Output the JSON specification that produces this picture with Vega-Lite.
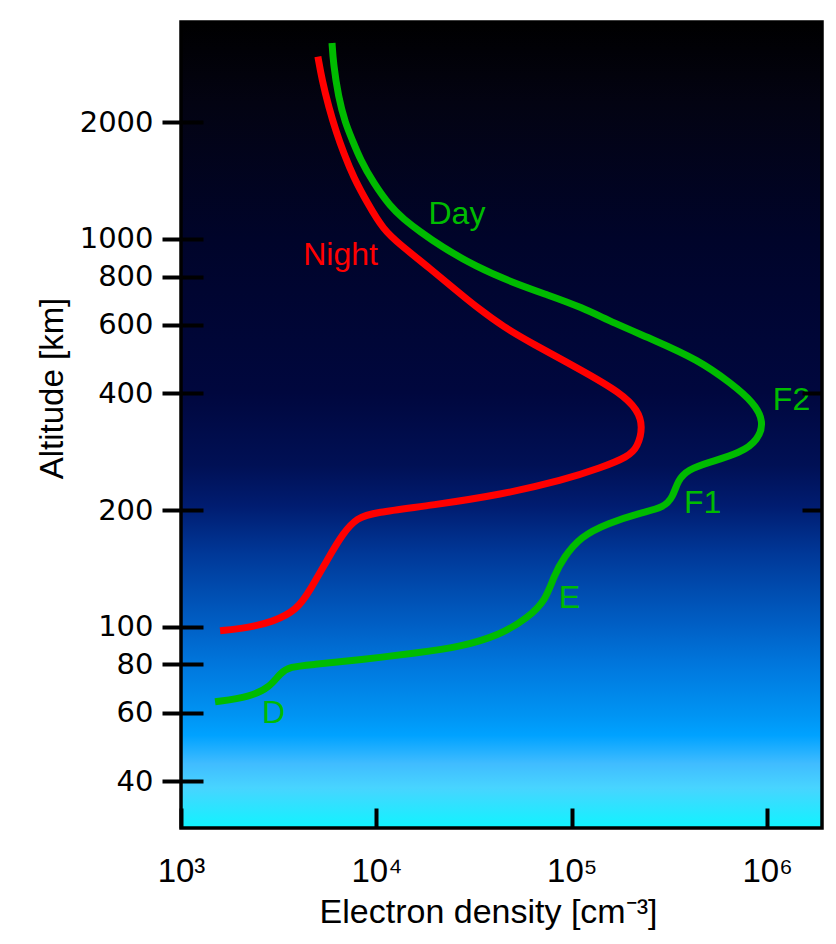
{
  "$schema": "https://vega.github.io/schema/vega-lite/v6.json",
  "width": 641,
  "height": 806,
  "autosize": {"type": "none"},
  "padding": {"left": 181, "top": 22, "right": 14, "bottom": 116},
  "background": "white",
  "config": {"view": {"stroke": null}, "font": "Liberation Sans"},
  "datasets": {
    "frame": [{"n0": 1000, "n1": 1910000, "a0": 30.3, "a1": 3624}],
    "profiles": [
      {"series": "Day", "i": 1, "n": 5930, "alt": 3200},
      {"series": "Day", "i": 2, "n": 6020, "alt": 2840},
      {"series": "Day", "i": 3, "n": 6390, "alt": 2320},
      {"series": "Day", "i": 4, "n": 6930, "alt": 1990},
      {"series": "Day", "i": 5, "n": 7530, "alt": 1800},
      {"series": "Day", "i": 6, "n": 8280, "alt": 1600},
      {"series": "Day", "i": 7, "n": 9650, "alt": 1395},
      {"series": "Day", "i": 8, "n": 11800, "alt": 1210},
      {"series": "Day", "i": 9, "n": 13760, "alt": 1126},
      {"series": "Day", "i": 10, "n": 16810, "alt": 1042},
      {"series": "Day", "i": 11, "n": 21290, "alt": 959},
      {"series": "Day", "i": 12, "n": 32000, "alt": 850},
      {"series": "Day", "i": 13, "n": 50420, "alt": 770},
      {"series": "Day", "i": 14, "n": 75330, "alt": 717},
      {"series": "Day", "i": 15, "n": 111200, "alt": 668},
      {"series": "Day", "i": 16, "n": 164200, "alt": 607},
      {"series": "Day", "i": 17, "n": 263400, "alt": 549},
      {"series": "Day", "i": 18, "n": 442900, "alt": 488},
      {"series": "Day", "i": 19, "n": 653800, "alt": 425},
      {"series": "Day", "i": 20, "n": 857800, "alt": 378},
      {"series": "Day", "i": 21, "n": 965000, "alt": 338},
      {"series": "Day", "i": 22, "n": 898800, "alt": 303},
      {"series": "Day", "i": 23, "n": 735900, "alt": 281},
      {"series": "Day", "i": 24, "n": 498300, "alt": 265},
      {"series": "Day", "i": 25, "n": 393400, "alt": 254},
      {"series": "Day", "i": 26, "n": 349700, "alt": 239},
      {"series": "Day", "i": 27, "n": 329600, "alt": 216},
      {"series": "Day", "i": 28, "n": 296400, "alt": 203},
      {"series": "Day", "i": 29, "n": 225900, "alt": 197},
      {"series": "Day", "i": 30, "n": 152900, "alt": 185},
      {"series": "Day", "i": 31, "n": 111200, "alt": 171},
      {"series": "Day", "i": 32, "n": 91000, "alt": 151},
      {"series": "Day", "i": 33, "n": 80870, "alt": 135},
      {"series": "Day", "i": 34, "n": 73580, "alt": 117},
      {"series": "Day", "i": 35, "n": 59480, "alt": 105.5},
      {"series": "Day", "i": 36, "n": 43240, "alt": 95.4},
      {"series": "Day", "i": 37, "n": 26960, "alt": 88.8},
      {"series": "Day", "i": 38, "n": 16230, "alt": 85.7},
      {"series": "Day", "i": 39, "n": 8280, "alt": 82.2},
      {"series": "Day", "i": 40, "n": 4590, "alt": 79.8},
      {"series": "Day", "i": 41, "n": 3620, "alt": 78.9},
      {"series": "Day", "i": 42, "n": 3220, "alt": 76.1},
      {"series": "Day", "i": 43, "n": 2860, "alt": 70.0},
      {"series": "Day", "i": 44, "n": 2260, "alt": 66.0},
      {"series": "Day", "i": 45, "n": 1494, "alt": 64.1},
      {"series": "Night", "i": 1, "n": 5020, "alt": 2950},
      {"series": "Night", "i": 2, "n": 5270, "alt": 2570},
      {"series": "Night", "i": 3, "n": 5700, "alt": 2190},
      {"series": "Night", "i": 4, "n": 6250, "alt": 1876},
      {"series": "Night", "i": 5, "n": 6800, "alt": 1666},
      {"series": "Night", "i": 6, "n": 7620, "alt": 1445},
      {"series": "Night", "i": 7, "n": 8990, "alt": 1238},
      {"series": "Night", "i": 8, "n": 10860, "alt": 1055},
      {"series": "Night", "i": 9, "n": 13280, "alt": 965},
      {"series": "Night", "i": 10, "n": 18920, "alt": 837},
      {"series": "Night", "i": 11, "n": 25420, "alt": 739},
      {"series": "Night", "i": 12, "n": 32960, "alt": 664},
      {"series": "Night", "i": 13, "n": 44800, "alt": 593},
      {"series": "Night", "i": 14, "n": 61620, "alt": 540},
      {"series": "Night", "i": 15, "n": 111200, "alt": 460},
      {"series": "Night", "i": 16, "n": 178400, "alt": 401},
      {"series": "Night", "i": 17, "n": 218000, "alt": 362},
      {"series": "Night", "i": 18, "n": 231300, "alt": 328},
      {"series": "Night", "i": 19, "n": 218000, "alt": 291},
      {"series": "Night", "i": 20, "n": 193700, "alt": 274},
      {"series": "Night", "i": 21, "n": 140800, "alt": 257},
      {"series": "Night", "i": 22, "n": 91000, "alt": 239},
      {"series": "Night", "i": 23, "n": 43240, "alt": 219},
      {"series": "Night", "i": 24, "n": 19600, "alt": 206},
      {"series": "Night", "i": 25, "n": 9650, "alt": 197},
      {"series": "Night", "i": 26, "n": 7990, "alt": 191},
      {"series": "Night", "i": 27, "n": 6770, "alt": 175},
      {"series": "Night", "i": 28, "n": 5610, "alt": 149},
      {"series": "Night", "i": 29, "n": 4590, "alt": 124.6},
      {"series": "Night", "i": 30, "n": 3930, "alt": 110.6},
      {"series": "Night", "i": 31, "n": 2960, "alt": 103.0},
      {"series": "Night", "i": 32, "n": 2180, "alt": 99.4},
      {"series": "Night", "i": 33, "n": 1585, "alt": 97.7}
    ],
    "labels": [
      {"label": "Day", "series": "Day", "n": 18480, "alt": 1093},
      {"label": "Night", "series": "Night", "n": 4220, "alt": 857},
      {"label": "F2", "series": "Day", "n": 1070000, "alt": 362.5},
      {"label": "F1", "series": "Day", "n": 375400, "alt": 196.7},
      {"label": "E", "series": "Day", "n": 85770, "alt": 111.9},
      {"label": "D", "series": "Day", "n": 2600, "alt": 56.6}
    ]
  },
  "resolve": {"axis": {"y": "independent"}},
  "layer": [
    {
      "data": {"name": "frame"},
      "mark": {
        "type": "rect",
        "stroke": "black",
        "strokeWidth": 3.5,
        "color": {
          "gradient": "linear",
          "x1": 0, "y1": 0, "x2": 0, "y2": 1,
          "stops": [
            {"offset": 0, "color": "#000000"},
            {"offset": 0.1, "color": "#030312"},
            {"offset": 0.27, "color": "#00042a"},
            {"offset": 0.46, "color": "#00073e"},
            {"offset": 0.55, "color": "#001055"},
            {"offset": 0.6, "color": "#001c70"},
            {"offset": 0.66, "color": "#003898"},
            {"offset": 0.75, "color": "#0060c6"},
            {"offset": 0.8, "color": "#0078de"},
            {"offset": 0.86, "color": "#0094f3"},
            {"offset": 0.885, "color": "#00a2ff"},
            {"offset": 0.92, "color": "#40bcff"},
            {"offset": 0.95, "color": "#48d4ff"},
            {"offset": 1, "color": "#10f4ff"}
          ]
        }
      },
      "encoding": {
        "x": {
          "field": "n0", "type": "quantitative",
          "scale": {"type": "log", "domain": [1000, 1910000], "nice": false, "zero": false},
          "axis": {
            "orient": "bottom",
            "values": [1000, 10000, 100000, 1000000],
            "labelExpr": "datum.value == 1000 ? '10³' : datum.value == 10000 ? '10⁴' : datum.value == 100000 ? '10⁵' : '10⁶'",
            "domain": false, "grid": false, "zindex": 2,
            "offset": -20, "tickSize": 20, "tickWidth": 4, "tickColor": "black",
            "labelFont": "Liberation Sans", "labelFontSize": 33, "labelColor": "black",
            "labelPadding": 27, "labelFlush": false, "labelOverlap": false,
            "title": "Electron density [cm⁻³]",
            "titleFont": "Liberation Sans", "titleFontSize": 34, "titleFontWeight": "normal",
            "titleColor": "black", "titleX": 307, "titleY": 114, "titleBaseline": "alphabetic"
          }
        },
        "x2": {"field": "n1"},
        "y": {
          "field": "a0", "type": "quantitative",
          "scale": {"type": "log", "domain": [30.3, 3624], "nice": false, "zero": false},
          "axis": {
            "orient": "left",
            "values": [40, 60, 80, 100, 200, 400, 600, 800, 1000, 2000],
            "format": "d",
            "domain": false, "grid": false, "zindex": 2,
            "offset": -22, "tickSize": 41, "tickWidth": 4, "tickColor": "black",
            "labelFont": "DejaVu Sans", "labelFontSize": 29, "labelColor": "black",
            "labelPadding": 9, "labelFlush": false, "labelOverlap": false,
            "title": "Altitude [km]",
            "titleFont": "Liberation Sans", "titleFontSize": 33, "titleFontWeight": "normal",
            "titleColor": "black", "titleX": -151, "titleY": 366, "titleBaseline": "middle", "titleAngle": -90
          }
        },
        "y2": {"field": "a1"}
      }
    },
    {
      "data": {"name": "profiles"},
      "mark": {"type": "line", "interpolate": "basis", "strokeWidth": 7, "strokeCap": "butt", "clip": true},
      "encoding": {
        "x": {"field": "n", "type": "quantitative"},
        "y": {
          "field": "alt", "type": "quantitative",
          "axis": {
            "orient": "right",
            "values": [200, 400],
            "labels": false, "domain": false, "grid": false, "zindex": 2,
            "offset": -20, "tickSize": 20, "tickWidth": 4, "tickColor": "black",
            "title": null
          }
        },
        "color": {
          "field": "series", "type": "nominal",
          "scale": {"domain": ["Day", "Night"], "range": ["#00bb00", "#ff0000"]},
          "legend": null
        },
        "order": {"field": "i", "type": "quantitative"}
      }
    },
    {
      "data": {"name": "labels"},
      "mark": {"type": "text", "align": "left", "baseline": "alphabetic", "fontSize": 32, "font": "Liberation Sans"},
      "encoding": {
        "x": {"field": "n", "type": "quantitative"},
        "y": {"field": "alt", "type": "quantitative", "axis": null},
        "text": {"field": "label", "type": "nominal"},
        "color": {"field": "series", "type": "nominal", "legend": null}
      }
    }
  ]
}
